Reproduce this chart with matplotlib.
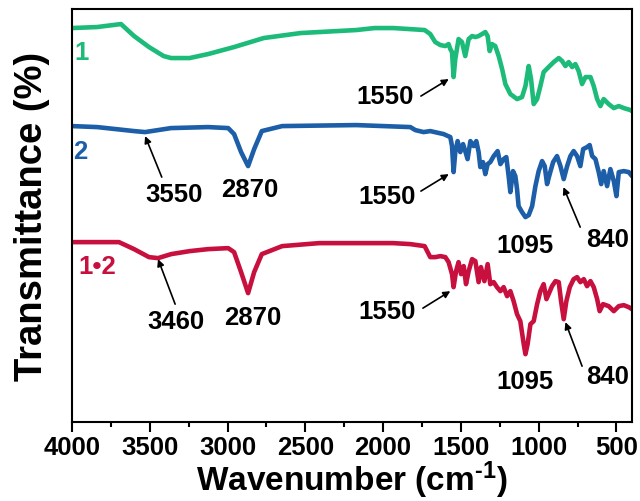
import matplotlib
matplotlib.use("Agg")
import matplotlib.pyplot as plt
from matplotlib.ticker import MultipleLocator

plt.rcParams['font.family'] = ['Liberation Sans', 'DejaVu Sans']
plt.rcParams['font.weight'] = 'bold'
plt.rcParams['mathtext.fontset'] = 'custom'
plt.rcParams['mathtext.rm'] = 'Liberation Sans:bold'
plt.rcParams['mathtext.bf'] = 'Liberation Sans:bold'
plt.rcParams['mathtext.default'] = 'bf'

# ---- data (wavenumber in cm^-1, offset transmittance in arbitrary units) ----
wn_1 = [4000, 3839, 3685, 3601, 3505, 3411, 3363, 3244, 3125, 2958, 2768, 2530, 2292, 2173,
        2054, 1935, 1733, 1697, 1665, 1632, 1600, 1579, 1568, 1557, 1547, 1536, 1515, 1493,
        1472, 1450, 1428, 1407, 1386, 1364, 1343, 1328, 1315, 1300, 1279, 1257, 1235, 1214,
        1182, 1139, 1107, 1085, 1064, 1049, 1032, 1010, 989, 968, 936, 903, 871, 849, 828,
        807, 785, 764, 743, 721, 699, 667, 646, 624, 603, 582, 550, 517, 485, 453, 410, 400]
t_1 = [393, 394, 397, 385, 374, 365, 363, 363, 367, 374, 383, 388, 390, 391,
       393, 393, 391, 387, 379, 376, 375, 377, 372, 369, 344, 362, 382, 379,
       365, 382, 385, 384, 385, 387, 389, 385, 370, 377, 375, 365, 352, 337,
       327, 322, 324, 335, 355, 342, 317, 322, 335, 349, 354, 359, 363, 360, 355,
       359, 354, 357, 350, 337, 344, 344, 335, 322, 315, 322, 317, 313, 315, 313, 311, 310]

wn_2 = [4000, 3839, 3601, 3530, 3363, 3125, 2996, 2958, 2913, 2868, 2829, 2780, 2649, 2173,
        1825, 1793, 1740, 1697, 1611, 1568, 1557, 1547, 1536, 1521, 1504, 1486, 1472, 1457,
        1439, 1418, 1401, 1386, 1375, 1358, 1343, 1328, 1311, 1289, 1264, 1246, 1225, 1208,
        1193, 1182, 1165, 1150, 1139, 1129, 1107, 1085, 1064, 1042, 1021, 1000, 978, 961,
        946, 929, 907, 882, 860, 839, 817, 796, 775, 753, 732, 714, 689, 672, 656, 635,
        614, 598, 582, 560, 539, 517, 500, 485, 453, 421, 400]
t_2 = [295, 294, 290, 289, 293, 294, 293, 287, 269, 255, 272, 290, 295, 296,
       294, 291, 289, 290, 287, 284, 275, 249, 269, 280, 269, 277, 270, 262,
       280, 275, 280, 269, 254, 259, 247, 257, 259, 265, 270, 257, 262, 264,
       245, 229, 250, 245, 232, 215, 209, 204, 206, 215, 235, 250, 260, 255,
       237, 247, 259, 265, 255, 242, 255, 265, 270, 265, 255, 272, 274, 276, 265, 262,
       249, 237, 250, 235, 252, 240, 225, 249, 250, 249, 245]

wn_12 = [4000, 3698, 3601, 3505, 3447, 3363, 3244, 3125, 2996, 2958, 2913, 2868, 2829, 2780,
         2649, 2411, 2173, 1935, 1825, 1733, 1697, 1665, 1632, 1600, 1579, 1557, 1547, 1531,
         1515, 1499, 1482, 1467, 1450, 1428, 1407, 1386, 1371, 1349, 1328, 1311, 1289, 1268,
         1246, 1225, 1203, 1182, 1161, 1139, 1118, 1096, 1085, 1071, 1053, 1032, 1010, 989,
         968, 950, 936, 914, 892, 871, 856, 839, 822, 800, 775, 753, 732, 710, 689, 667,
         646, 624, 608, 586, 550, 517, 485, 453, 421, 400]
t_12 = [179, 179, 172, 164, 163, 167, 170, 172, 173, 169, 149, 128, 149, 167,
        175, 178, 178, 178, 177, 175, 164, 164, 165, 164, 159, 147, 134, 150,
        159, 147, 155, 137, 150, 162, 160, 139, 154, 140, 157, 137, 139, 134,
        130, 134, 125, 130, 120, 107, 100, 77, 67, 77, 97, 100, 117, 130,
        137, 122, 127, 135, 140, 139, 120, 102, 120, 134, 142, 144, 139, 142, 135, 140,
        134, 122, 110, 117, 115, 110, 115, 116, 114, 112]

series_colors = ['#1dbb7a', '#1c5ea8', '#c8103f']
series_names = ['1', '2', '1\u20222']

# annotations: (text, text_x, text_y, arrow_tail, arrow_head)
labels_1 = [("1550", 1990, 325, (1757, 325), (1578, 342))]
labels_2 = [("3550", 3346, 227, (3423, 244), (3530, 285)),
            ("2870", 2859, 232, None, None),
            ("1550", 1977, 225, (1757, 230), (1578, 247)),
            ("1095", 1085, 176, None, None),
            ("840", 558, 182, (733, 194), (841, 234))]
labels_12 = [("3460", 3331, 100, (3337, 117), (3447, 162)),
             ("2870", 2835, 104, None, None),
             ("1550", 1974, 110, (1744, 113), (1568, 130)),
             ("1095", 1085, 40, None, None),
             ("840", 558, 45, (721, 55), (828, 99))]
name_pos = [(3936, 369), (3949, 270), (3839, 155)]

fig = plt.figure(figsize=(6.4, 5.02), dpi=100)
ax = fig.add_axes([0.1125, 0.157, 0.875, 0.823])

for wn, t, c in zip([wn_1, wn_2, wn_12], [t_1, t_2, t_12], series_colors):
    ax.plot(wn, t, color=c, lw=3.3, solid_joinstyle='round', solid_capstyle='round')

fs = 18.5
for (nx, ny), name, c in zip(name_pos, series_names, series_colors):
    ax.text(nx, ny, name, color=c, fontsize=fs, fontweight='bold', ha='center', va='center')

for labs in (labels_1, labels_2, labels_12):
    for txt, tx, ty, tail, head in labs:
        ax.text(tx, ty, txt, fontsize=fs, fontweight='bold', ha='center', va='center', color='black')
        if tail is not None:
            ax.annotate('', xy=head, xytext=tail,
                        arrowprops=dict(arrowstyle='-|>', lw=1.2, color='black',
                                        mutation_scale=10, shrinkA=0, shrinkB=0))

ax.set_xlim(4000, 400)
ax.set_ylim(-1, 412)
ax.set_yticks([])
ax.xaxis.set_major_locator(MultipleLocator(500))
ax.xaxis.set_minor_locator(MultipleLocator(250))
ax.tick_params(axis='x', which='major', direction='out', length=7, width=1.5,
               labelsize=18.5, pad=2)
ax.tick_params(axis='x', which='minor', direction='out', length=3.5, width=1.5)
for lab in ax.get_xticklabels():
    lab.set_fontweight('bold')
for s in ax.spines.values():
    s.set_linewidth(1.5)

ax.set_xlabel(r'Wavenumber (cm$^{\text{-1}}$)', fontsize=24, fontweight='bold', labelpad=0)
ax.set_ylabel('Transmittance (%)', fontsize=27.5, fontweight='bold', labelpad=16)

fig.savefig('out.png', dpi=100)
